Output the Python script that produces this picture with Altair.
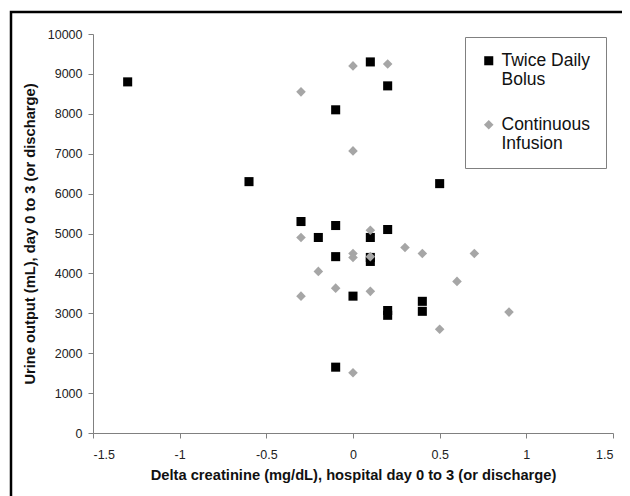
import altair as alt
import pandas as pd

series_names = ["Twice Daily Bolus", "Continuous Infusion"]

bolus_x = [-1.3, -0.6, -0.1, -0.3, -0.1, -0.2, 0.1, 0.2, 0.5, 0.2, 0.1, -0.1, 0.1, 0.1, 0.0, 0.2, 0.2, 0.4, 0.4, -0.1]
bolus_y = [8800, 6300, 8100, 5300, 5200, 4900, 9300, 8700, 6250, 5100, 4900, 4420, 4400, 4300, 3430, 3070, 2950, 3300, 3050, 1650]

infusion_x = [-0.3, -0.3, 0.0, 0.2, 0.0, 0.1, 0.3, 0.0, 0.0, 0.1, 0.4, 0.7, -0.2, 0.6, -0.1, 0.1, -0.3, 0.9, 0.5, 0.0]
infusion_y = [8550, 4900, 9200, 9250, 7070, 5080, 4650, 4500, 4400, 4420, 4500, 4500, 4050, 3800, 3630, 3550, 3430, 3030, 2600, 1510]

x_ticks = [-1.5, -1, -0.5, 0, 0.5, 1, 1.5]
y_ticks = [0, 1000, 2000, 3000, 4000, 5000, 6000, 7000, 8000, 9000, 10000]

df = pd.DataFrame({
    "dcr": bolus_x + infusion_x,
    "urine": bolus_y + infusion_y,
    "group": [series_names[0]] * len(bolus_x) + [series_names[1]] * len(infusion_x),
})

FONT = "Liberation Sans"

legend = alt.Legend(
    title=None,
    orient="none",
    legendX=372,
    legendY=3,
    padding=15,
    strokeColor="#808080",
    fillColor="white",
    labelFont=FONT,
    labelFontSize=17.5,
    labelColor="#111111",
    labelLimit=200,
    rowPadding=26,
    symbolStrokeWidth=0,
    labelExpr="datum.label == 'Twice Daily Bolus' ? ['Twice Daily', 'Bolus'] : ['Continuous', 'Infusion']",
)

points = alt.Chart(df).mark_point(filled=True, opacity=1, strokeWidth=0).encode(
    x=alt.X("dcr:Q",
            scale=alt.Scale(domain=[-1.5, 1.5], nice=False, zero=False),
            axis=alt.Axis(values=x_ticks, labelExpr="datum.value + ''",
                          title="Delta creatinine (mg/dL), hospital day 0 to 3 (or discharge)",
                          grid=False)),
    y=alt.Y("urine:Q",
            scale=alt.Scale(domain=[0, 10000], nice=False),
            axis=alt.Axis(values=y_ticks, format="d",
                          title="Urine output (mL), day 0 to 3 (or discharge)",
                          grid=False)),
    color=alt.Color("group:N", scale=alt.Scale(domain=series_names, range=["#000000", "#a6a6a6"]), legend=legend),
    shape=alt.Shape("group:N", scale=alt.Scale(domain=series_names, range=["square", "diamond"]), legend=legend),
    size=alt.Size("group:N", scale=alt.Scale(domain=series_names, range=[82, 92]), legend=legend),
    order=alt.Order("grp_order:Q"),
).transform_calculate(grp_order="datum.group == 'Twice Daily Bolus' ? 0 : 1")

frame = alt.Chart(pd.DataFrame({"k": [0]})).mark_rect(
    fill=None, stroke="black", strokeWidth=2.5, clip=False
).encode(
    x=alt.value(-82), x2=alt.value(534), y=alt.value(-22), y2=alt.value(490)
)

chart = alt.layer(frame, points).properties(
    width=520,
    height=399,
    autosize=alt.AutoSizeParams(type="none"),
    padding={"left": 85, "top": 26, "right": 9, "bottom": 63},
    background="white",
).configure_view(stroke=None).configure_axis(
    labelFont=FONT,
    labelFontSize=12.5,
    labelColor="#222222",
    titleFont=FONT,
    titleFontSize=14.7,
    titleFontWeight="bold",
    titleColor="#111111",
    domainColor="#808080",
    tickColor="#808080",
    tickSize=5,
).configure_axisX(titlePadding=7, labelPadding=10).configure_axisY(titlePadding=10, labelPadding=6)

chart.save("out.html", embed_options={"renderer": "svg", "actions": False})
